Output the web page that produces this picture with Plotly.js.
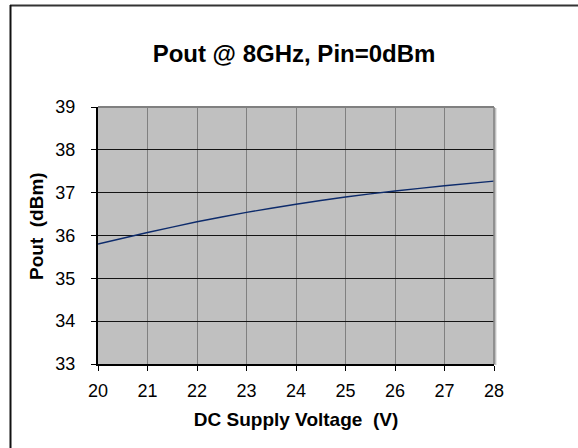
<!DOCTYPE html>
<html>
<head>
<meta charset="utf-8">
<script src="https://cdn.plot.ly/plotly-3.0.1.min.js"></script>
<style>html,body{margin:0;padding:0;background:#fff;}#chart{width:578px;height:448px;}</style>
</head>
<body>
<div id="chart"></div>
<script>
var voltage = [20, 21, 22, 23, 24, 25, 26, 27, 28];
var poutDbm = [35.80, 36.07, 36.32, 36.54, 36.73, 36.90, 37.04, 37.16, 37.27];
var xTicks = [20, 21, 22, 23, 24, 25, 26, 27, 28];
var yTicks = [33, 34, 35, 36, 37, 38, 39];
var chartTitle = 'Pout @ 8GHz, Pin=0dBm';
var xTitle = 'DC Supply Voltage  (V)';
var yTitle = 'Pout  (dBm)';

var font = 'Arial, "Liberation Sans", sans-serif';

var trace = {
  x: voltage, y: poutDbm, type: 'scatter', mode: 'lines',
  line: {color: '#0D2B6B', width: 1.4, shape: 'spline', smoothing: 0.6},
  hoverinfo: 'skip', showlegend: false
};

var layout = {
  width: 578, height: 448, autosize: false,
  margin: {l: 98, r: 84, t: 107, b: 84, pad: 0},
  paper_bgcolor: '#FFFFFF',
  plot_bgcolor: '#C0C0C0',
  font: {family: font, color: '#000', size: 18},
  title: {text: '<b>' + chartTitle + '</b>', font: {family: font, size: 24, color: '#000'},
          x: 0.495, xref: 'paper', xanchor: 'center', y: 448 - 53, yref: 'container', yanchor: 'middle'},
  xaxis: {
    range: [20, 28], tickvals: xTicks, ticktext: xTicks.map(String),
    showgrid: true, gridcolor: '#808080', gridwidth: 1,
    showline: true, linecolor: '#000', linewidth: 2,
    ticks: 'outside', ticklen: 5, tickwidth: 1, tickcolor: '#000',
    ticklabelstandoff: 4,
    tickfont: {family: font, size: 18, color: '#000'},
    zeroline: false, fixedrange: true, automargin: false,
    title: {text: '<b>' + xTitle + '</b>', font: {family: font, size: 19, color: '#000'}, standoff: 13}
  },
  yaxis: {
    range: [33, 39], tickvals: yTicks, ticktext: yTicks.map(String),
    showgrid: true, gridcolor: '#141414', gridwidth: 1.3,
    showline: true, linecolor: '#000', linewidth: 2,
    ticks: 'outside', ticklen: 5, tickwidth: 1, tickcolor: '#000',
    ticklabelstandoff: 12,
    tickfont: {family: font, size: 18, color: '#000'},
    zeroline: false, fixedrange: true, automargin: false
  },
  annotations: [
    {text: '<b>' + yTitle + '</b>', xref: 'paper', yref: 'paper',
     x: (36 - 98) / 396, y: (364 - 226) / 257, xanchor: 'center', yanchor: 'middle',
     textangle: -90, showarrow: false, font: {family: font, size: 19, color: '#000'}}
  ],
  shapes: [
    {type: 'rect', xref: 'paper', yref: 'paper', x0: 1, x1: 1.006, y0: -0.004, y1: 0.996,
     fillcolor: '#C0C0C0', line: {width: 0}, layer: 'below'},
    {type: 'line', xref: 'paper', yref: 'paper', x0: 0, x1: 1, y0: 1, y1: 1,
     line: {color: '#808080', width: 2}},
    {type: 'line', xref: 'paper', yref: 'paper', x0: 1, x1: 1, y0: 0, y1: 1,
     line: {color: '#808080', width: 1.5}},
    {type: 'line', xref: 'paper', yref: 'paper', x0: (10 - 98) / 396, x1: (600 - 98) / 396,
     y0: (364 - 5.5) / 257, y1: (364 - 5.5) / 257, line: {color: '#333', width: 2}},
    {type: 'line', xref: 'paper', yref: 'paper', x0: (10.5 - 98) / 396, x1: (10.5 - 98) / 396,
     y0: (364 - 5) / 257, y1: (364 - 460) / 257, line: {color: '#111', width: 2}}
  ]
};

Plotly.newPlot('chart', [trace], layout, {staticPlot: true, displayModeBar: false});
</script>
</body>
</html>
